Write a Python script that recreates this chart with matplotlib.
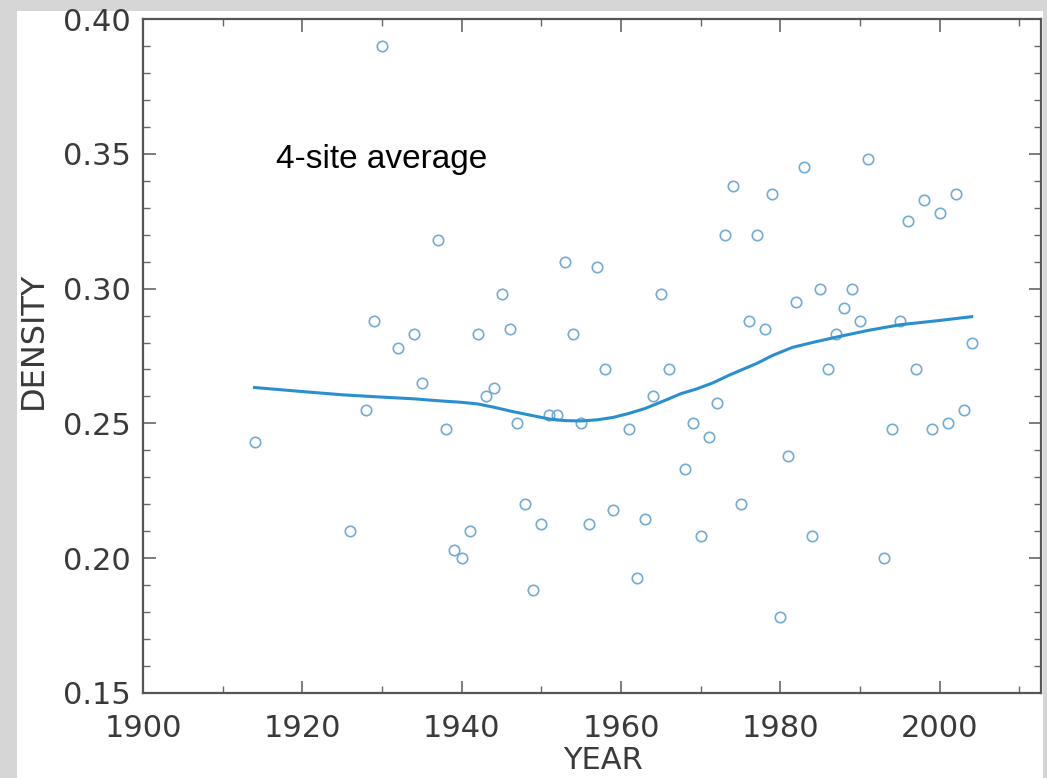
#!/usr/bin/env python3
"""Annual density scatter with smoothed curve, 4-site average."""
import numpy as np
import matplotlib
matplotlib.use("Agg")
import matplotlib.pyplot as plt
from matplotlib.patches import Rectangle
from matplotlib.ticker import MultipleLocator

# yearly values
YEARS = [1914, 1926, 1928, 1929, 1930, 1932, 1934, 1935, 1937, 1938,
         1939, 1940, 1941, 1942, 1943, 1944, 1945, 1946, 1947, 1948,
         1949, 1950, 1951, 1952, 1953, 1954, 1955, 1956, 1957, 1958,
         1959, 1961, 1962, 1963, 1964, 1965, 1966, 1968, 1969, 1970,
         1971, 1972, 1973, 1974, 1975, 1976, 1977, 1978, 1979, 1980,
         1981, 1982, 1983, 1984, 1985, 1986, 1987, 1988, 1989, 1990,
         1991, 1993, 1994, 1995, 1996, 1997, 1998, 1999, 2000, 2001,
         2002, 2003, 2004]
DENSITY = [0.243, 0.210, 0.255, 0.288, 0.390, 0.278, 0.283, 0.265, 0.318, 0.248,
           0.203, 0.200, 0.210, 0.283, 0.260, 0.263, 0.298, 0.285, 0.250, 0.220,
           0.188, 0.2125, 0.253, 0.253, 0.310, 0.283, 0.250, 0.2125, 0.308, 0.270,
           0.218, 0.248, 0.1925, 0.2145, 0.260, 0.298, 0.270, 0.233, 0.250, 0.208,
           0.245, 0.2575, 0.320, 0.338, 0.220, 0.288, 0.320, 0.285, 0.335, 0.178,
           0.238, 0.295, 0.345, 0.208, 0.300, 0.270, 0.283, 0.293, 0.300, 0.288,
           0.348, 0.200, 0.248, 0.288, 0.325, 0.270, 0.333, 0.248, 0.328, 0.250,
           0.335, 0.255, 0.280]

# smoothed curve, read at a denser set of years
SMOOTH_YEARS = [1914, 1920, 1925, 1929, 1934, 1937, 1940, 1942, 1944, 1946.5,
                1949, 1951, 1953, 1955, 1957, 1959, 1961, 1963, 1965.5, 1967.5,
                1969.5, 1971.5, 1973.5, 1975, 1977, 1979, 1981.5, 1984, 1987,
                1991, 1995, 2000, 2004]
SMOOTH_VALS = [0.2633, 0.2618, 0.2606, 0.2599, 0.2591, 0.2584, 0.2578, 0.2572,
               0.2560, 0.2543, 0.2528, 0.2516, 0.2510, 0.2509, 0.2513, 0.2522,
               0.2537, 0.2555, 0.2585, 0.2610, 0.2628, 0.2650, 0.2678, 0.2697,
               0.2722, 0.2752, 0.2782, 0.2800, 0.2820, 0.2845, 0.2866, 0.2882,
               0.2896]

W, H = 1047, 778

fig = plt.figure(figsize=(W / 100, H / 100), dpi=100, facecolor="#d6d6d6")
# white card behind the plot
card = Rectangle((17 / W, 0), (1043 - 17) / W, (H - 11) / H,
                 transform=fig.transFigure, facecolor="white",
                 edgecolor="none", zorder=-5)
fig.add_artist(card)

ax = fig.add_axes([143 / W, 1 - 692.7 / H, (1041 - 143) / W, (692.7 - 19.3) / H])
ax.set_zorder(2)
ax.set_facecolor("white")

ax.plot(YEARS, DENSITY, linestyle="none", marker="o", markersize=7.5,
        markerfacecolor="none", markeredgecolor="#72acd4", markeredgewidth=1.2)
ax.plot(SMOOTH_YEARS, SMOOTH_VALS, color="#2a8fcf", linewidth=2.2)

ax.set_xlim(1900, 2012.7)
ax.set_ylim(0.15, 0.40)
ax.xaxis.set_major_locator(MultipleLocator(20))
ax.xaxis.set_minor_locator(MultipleLocator(10))
ax.yaxis.set_major_locator(MultipleLocator(0.05))
ax.yaxis.set_minor_locator(MultipleLocator(0.01))
ax.yaxis.set_major_formatter(matplotlib.ticker.FormatStrFormatter("%.2f"))

for s in ax.spines.values():
    s.set_color("#555555")
    s.set_linewidth(1.6)
ax.tick_params(which="both", direction="in", top=True, right=True,
               color="#666666", labelcolor="#3a3a3a")
ax.tick_params(which="major", length=9, width=1.2, labelsize=22)
ax.tick_params(which="minor", length=5, width=1.0)
ax.tick_params(axis="y", which="major", pad=9)
ax.tick_params(axis="x", which="major", pad=15)

ax.text(1916.7, 0.3478, "4-site average", fontsize=24, va="center", ha="left",
        family=["Liberation Sans", "DejaVu Sans"], color="black")

fig.text(33 / W, 1 - 340 / H, "DENSITY", rotation=90, fontsize=23,
         color="#3a3a3a", ha="center", va="center", zorder=3)
fig.text(603 / W, 3 / H, "YEAR", fontsize=22, color="#3a3a3a",
         ha="center", va="bottom", zorder=3)

fig.savefig("out.png", dpi=100, facecolor=fig.get_facecolor())
